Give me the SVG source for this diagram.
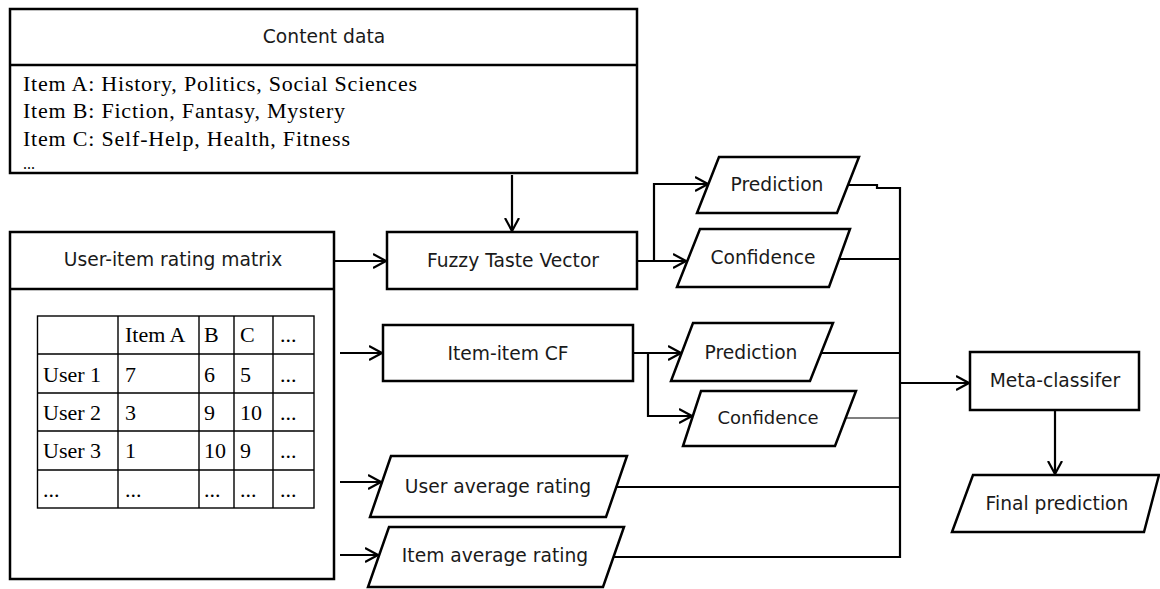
<svg xmlns="http://www.w3.org/2000/svg" width="1160" height="589" viewBox="0 0 1160 589">
<style>
.box{fill:#fff;stroke:#000;stroke-width:2.5}
.sans{font-family:"DejaVu Sans",Verdana,sans-serif;font-size:18.7px;fill:#1a1a1a;text-anchor:middle}
.serif{font-family:"Liberation Serif","Times New Roman",serif;font-size:22px;fill:#000}
.ln{fill:none;stroke:#000;stroke-width:2.2}
.thin{fill:none;stroke:#000;stroke-width:1.2}
.tbl{fill:none;stroke:#000;stroke-width:1.4}
</style>
<defs>
<marker id="arr" viewBox="0 0 14 16" refX="13" refY="8" markerWidth="14" markerHeight="16" markerUnits="userSpaceOnUse" orient="auto">
<path d="M0,1 L13,8 L0,15" fill="none" stroke="#000" stroke-width="2.2"/>
</marker>
</defs>
<rect width="1160" height="589" fill="#fff"/>

<g id="connectors">
<path class="ln" d="M512,175 V231" marker-end="url(#arr)"/>
<path class="ln" d="M334,261 H386" marker-end="url(#arr)"/>
<path class="ln" d="M340,353 H382" marker-end="url(#arr)"/>
<path class="ln" d="M340,482 H381" marker-end="url(#arr)"/>
<path class="ln" d="M340,555 H378" marker-end="url(#arr)"/>
<path class="ln" d="M637,261 H686" marker-end="url(#arr)"/>
<path class="ln" d="M654,261 V184 H708" marker-end="url(#arr)"/>
<path class="ln" d="M633,353 H681" marker-end="url(#arr)"/>
<path class="ln" d="M648,353 V416 H692" marker-end="url(#arr)"/>
<path class="ln" d="M848,185 H877 V188 H900"/>
<path class="ln" d="M839,259 H900"/>
<path class="ln" d="M822,353 H900"/>
<path class="thin" d="M846,418 H900"/>
<path class="ln" d="M616,487 H900"/>
<path class="ln" d="M613,557 H900"/>
<path class="ln" d="M900,187 V558"/>
<path class="ln" d="M900,383 H969" marker-end="url(#arr)"/>
<path class="ln" d="M1055,410 V474" marker-end="url(#arr)"/>
</g>

<g id="content-data">
<rect class="box" x="10" y="9" width="627" height="164"/>
<line x1="10" y1="65" x2="637" y2="65" stroke="#000" stroke-width="2.5"/>
<text class="sans" x="324" y="43">Content data</text>
<text class="serif" x="23" y="91" textLength="394">Item A: History, Politics, Social Sciences</text>
<text class="serif" x="23" y="118" textLength="322">Item B: Fiction, Fantasy, Mystery</text>
<text class="serif" x="23" y="146" textLength="327">Item C: Self-Help, Health, Fitness</text>
<text class="serif" x="23" y="169" style="font-size:16px">...</text>
</g>

<g id="user-item-matrix">
<rect class="box" x="10" y="232" width="324" height="347"/>
<line x1="10" y1="289" x2="334" y2="289" stroke="#000" stroke-width="2.5"/>
<text class="sans" x="173" y="266">User-item rating matrix</text>
<g id="rating-table">
<rect class="tbl" x="37.5" y="316" width="276.5" height="192"/>
<path class="tbl" d="M118,316 V508 M199,316 V508 M234,316 V508 M273,316 V508 M37.5,354 H314 M37.5,393 H314 M37.5,431 H314 M37.5,470 H314"/>
<text class="serif" x="125" y="342">Item A</text>
<text class="serif" x="204" y="342">B</text>
<text class="serif" x="240" y="342">C</text>
<text class="serif" x="280" y="342">...</text>
<text class="serif" x="43" y="382">User 1</text>
<text class="serif" x="125" y="382">7</text>
<text class="serif" x="204" y="382">6</text>
<text class="serif" x="240" y="382">5</text>
<text class="serif" x="280" y="382">...</text>
<text class="serif" x="43" y="420">User 2</text>
<text class="serif" x="125" y="420">3</text>
<text class="serif" x="204" y="420">9</text>
<text class="serif" x="240" y="420">10</text>
<text class="serif" x="280" y="420" fill="#999">...</text>
<text class="serif" x="43" y="458">User 3</text>
<text class="serif" x="125" y="458">1</text>
<text class="serif" x="204" y="458">10</text>
<text class="serif" x="240" y="458">9</text>
<text class="serif" x="280" y="458">...</text>
<text class="serif" x="43" y="497">...</text>
<text class="serif" x="125" y="497">...</text>
<text class="serif" x="204" y="497">...</text>
<text class="serif" x="240" y="497">...</text>
<text class="serif" x="280" y="497">...</text>
</g>
</g>

<g id="fuzzy-taste-vector">
<rect class="box" x="387" y="232" width="250" height="57"/>
<text class="sans" x="513" y="267">Fuzzy Taste Vector</text>
</g>

<g id="item-item-cf">
<rect class="box" x="383" y="325" width="250" height="56"/>
<text class="sans" x="508" y="360">Item-item CF</text>
</g>

<g id="prediction-1">
<polygon class="box" points="719,157 859,157 837,213 697,213"/>
<text class="sans" x="777" y="191">Prediction</text>
</g>

<g id="confidence-1">
<polygon class="box" points="700,229 850,229 829,287 677,287"/>
<text class="sans" x="763" y="264">Confidence</text>
</g>

<g id="prediction-2">
<polygon class="box" points="693,323 833,323 810,381 671,381"/>
<text class="sans" x="751" y="359">Prediction</text>
</g>

<g id="confidence-2">
<polygon class="box" points="701,391 856,391 835,446 683,446"/>
<text class="sans" x="768" y="424" style="font-size:18px">Confidence</text>
</g>

<g id="user-average-rating">
<polygon class="box" points="391,456 627,456 606,517 370,517"/>
<text class="sans" x="498" y="493">User average rating</text>
</g>

<g id="item-average-rating">
<polygon class="box" points="389,527 624,527 603,587 368,587"/>
<text class="sans" x="495" y="562">Item average rating</text>
</g>

<g id="meta-classifier">
<rect class="box" x="970" y="352" width="169" height="58"/>
<text class="sans" x="1055" y="387">Meta-classifer</text>
</g>

<g id="final-prediction">
<polygon class="box" points="973,475 1159,475 1144,532 952,532"/>
<text class="sans" x="1057" y="510">Final prediction</text>
</g>
</svg>
